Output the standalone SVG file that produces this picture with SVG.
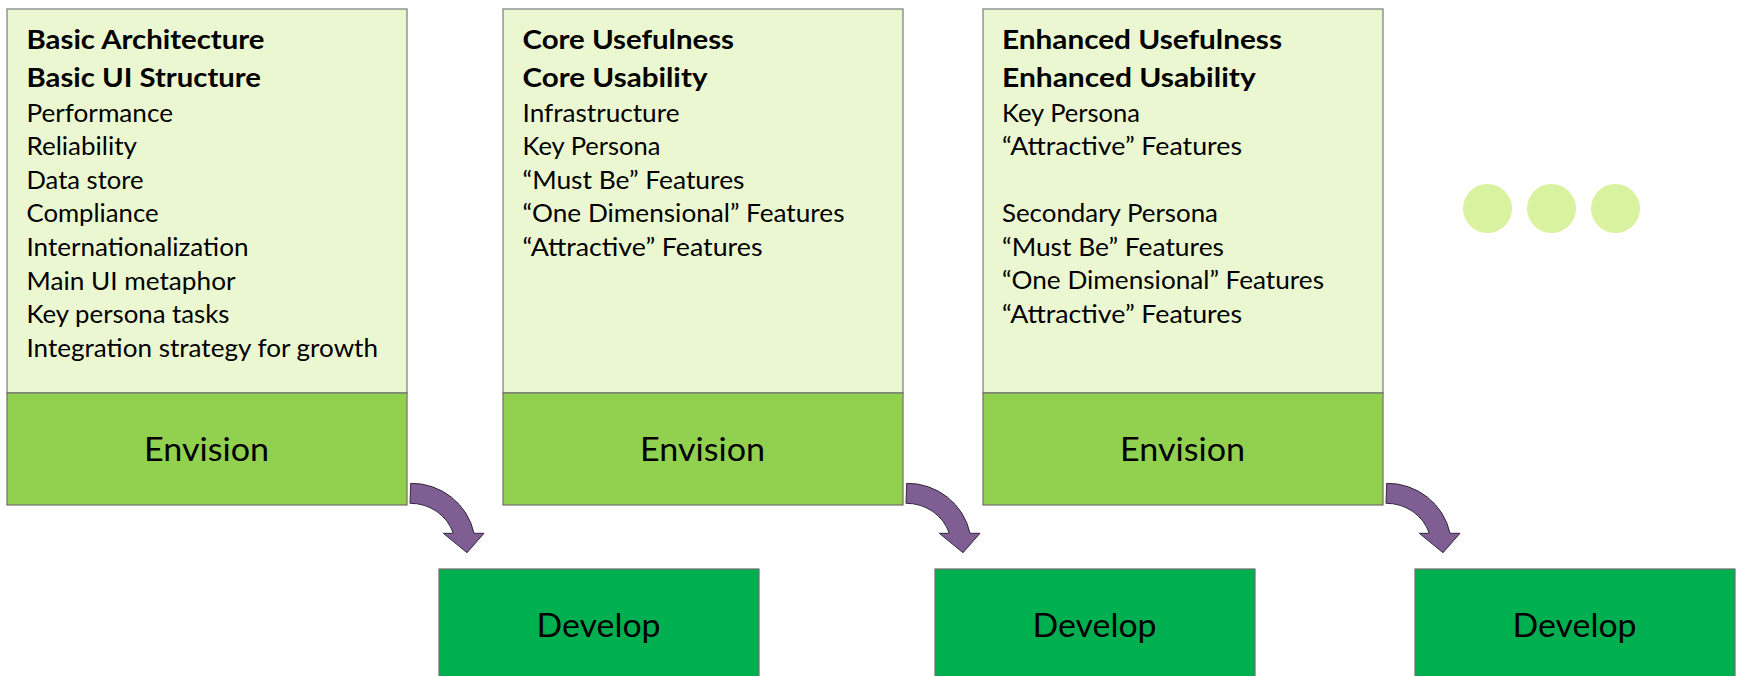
<svg xmlns="http://www.w3.org/2000/svg" width="1738" height="676" viewBox="0 0 1738 676">
<style>
text{font-family:"Lato","Open Sans","Liberation Sans",sans-serif;fill:#000}
.top{fill:#EBF7D0;stroke:#7a7a7a;stroke-width:1.2}
.env{fill:#92D050;stroke:#6e6e6e;stroke-width:1.2}
.dev{fill:#00B050;stroke:#6e6e6e;stroke-width:1.2}
.dot{fill:#D9F2A0}
.arrow{fill:#7F5F93;stroke:#33283c;stroke-width:1}
.b{font-size:27px;font-weight:700}
.r{font-size:24.5px}
.big{font-size:32.5px}
</style>
<rect width="1738" height="676" fill="#fff"/>
<g id="connectors">
<path class="arrow" d="M410.7 483.3A64 63 0 0 1 474 533.3H484L467 552.7L443.3 533.3H453.3A45 43 0 0 0 410 503.3Z"/>
<path class="arrow" d="M906.7 483.3A64 63 0 0 1 970 533.3H980L963 552.7L939.3 533.3H949.3A45 43 0 0 0 906 503.3Z"/>
<path class="arrow" d="M1386.7 483.3A64 63 0 0 1 1450 533.3H1460L1443 552.7L1419.3 533.3H1429.3A45 43 0 0 0 1386 503.3Z"/>
</g>
<g id="col1-top">
<rect class="top" x="7" y="9" width="400" height="384"/>
<text class="b" x="26.5" y="49" textLength="238" lengthAdjust="spacingAndGlyphs">Basic Architecture</text>
<text class="b" x="26.5" y="87" textLength="234.5" lengthAdjust="spacingAndGlyphs">Basic UI Structure</text>
<text class="r" x="26.5" y="122" textLength="146.5" lengthAdjust="spacingAndGlyphs">Performance</text>
<text class="r" x="26.5" y="155" textLength="110.5" lengthAdjust="spacingAndGlyphs">Reliability</text>
<text class="r" x="26.5" y="189" textLength="117" lengthAdjust="spacingAndGlyphs">Data store</text>
<text class="r" x="26.5" y="222" textLength="132" lengthAdjust="spacingAndGlyphs">Compliance</text>
<text class="r" x="26.5" y="256" textLength="222" lengthAdjust="spacingAndGlyphs">Internationalization</text>
<text class="r" x="26.5" y="290" textLength="209" lengthAdjust="spacingAndGlyphs">Main UI metaphor</text>
<text class="r" x="26.5" y="323" textLength="203" lengthAdjust="spacingAndGlyphs">Key persona tasks</text>
<text class="r" x="26.5" y="357" textLength="351.5" lengthAdjust="spacingAndGlyphs">Integration strategy for growth</text>
</g>
<g id="col1-envision">
<rect class="env" x="7" y="393" width="400" height="112"/>
<text class="big" x="206.6" y="461" text-anchor="middle" textLength="125" lengthAdjust="spacingAndGlyphs">Envision</text>
</g>
<g id="col1-develop">
<rect class="dev" x="439" y="569" width="320" height="110"/>
<text class="big" x="598.6" y="637" text-anchor="middle" textLength="124" lengthAdjust="spacingAndGlyphs">Develop</text>
</g>
<g id="col2-top">
<rect class="top" x="503" y="9" width="400" height="384"/>
<text class="b" x="522.5" y="49" textLength="211.5" lengthAdjust="spacingAndGlyphs">Core Usefulness</text>
<text class="b" x="522.5" y="87" textLength="185" lengthAdjust="spacingAndGlyphs">Core Usability</text>
<text class="r" x="522.5" y="122" textLength="157" lengthAdjust="spacingAndGlyphs">Infrastructure</text>
<text class="r" x="522.5" y="155" textLength="138" lengthAdjust="spacingAndGlyphs">Key Persona</text>
<text class="r" x="522.5" y="189" textLength="222" lengthAdjust="spacingAndGlyphs">“Must Be” Features</text>
<text class="r" x="522.5" y="222" textLength="322" lengthAdjust="spacingAndGlyphs">“One Dimensional” Features</text>
<text class="r" x="522.5" y="256" textLength="240" lengthAdjust="spacingAndGlyphs">“Attractive” Features</text>
</g>
<g id="col2-envision">
<rect class="env" x="503" y="393" width="400" height="112"/>
<text class="big" x="702.6" y="461" text-anchor="middle" textLength="125" lengthAdjust="spacingAndGlyphs">Envision</text>
</g>
<g id="col2-develop">
<rect class="dev" x="935" y="569" width="320" height="110"/>
<text class="big" x="1094.6" y="637" text-anchor="middle" textLength="124" lengthAdjust="spacingAndGlyphs">Develop</text>
</g>
<g id="col3-top">
<rect class="top" x="983" y="9" width="400" height="384"/>
<text class="b" x="1002" y="49" textLength="280" lengthAdjust="spacingAndGlyphs">Enhanced Usefulness</text>
<text class="b" x="1002" y="87" textLength="253.7" lengthAdjust="spacingAndGlyphs">Enhanced Usability</text>
<text class="r" x="1002" y="122" textLength="138" lengthAdjust="spacingAndGlyphs">Key Persona</text>
<text class="r" x="1002" y="155" textLength="240" lengthAdjust="spacingAndGlyphs">“Attractive” Features</text>
<text class="r" x="1002" y="222" textLength="216" lengthAdjust="spacingAndGlyphs">Secondary Persona</text>
<text class="r" x="1002" y="256" textLength="222" lengthAdjust="spacingAndGlyphs">“Must Be” Features</text>
<text class="r" x="1002" y="289" textLength="322" lengthAdjust="spacingAndGlyphs">“One Dimensional” Features</text>
<text class="r" x="1002" y="323" textLength="240" lengthAdjust="spacingAndGlyphs">“Attractive” Features</text>
</g>
<g id="col3-envision">
<rect class="env" x="983" y="393" width="400" height="112"/>
<text class="big" x="1182.6" y="461" text-anchor="middle" textLength="125" lengthAdjust="spacingAndGlyphs">Envision</text>
</g>
<g id="col3-develop">
<rect class="dev" x="1415" y="569" width="320" height="110"/>
<text class="big" x="1574.6" y="637" text-anchor="middle" textLength="124" lengthAdjust="spacingAndGlyphs">Develop</text>
</g>
<g id="ellipsis">
<circle class="dot" cx="1487.5" cy="208.5" r="24.5"/>
<circle class="dot" cx="1551.5" cy="208.5" r="24.5"/>
<circle class="dot" cx="1615.5" cy="208.5" r="24.5"/>
</g>
</svg>
